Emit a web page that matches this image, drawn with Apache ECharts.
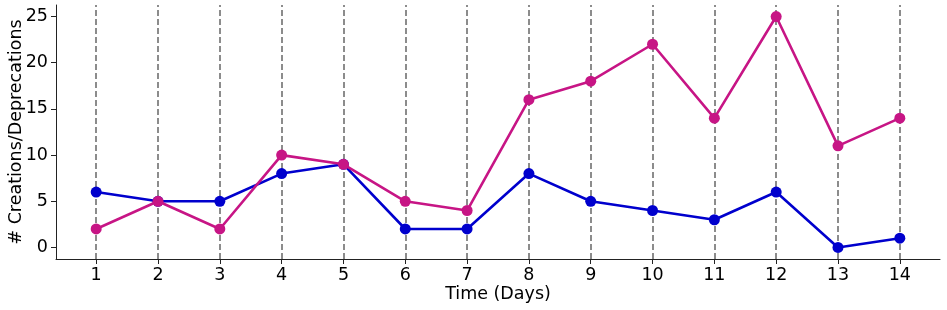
<!DOCTYPE html>
<html><head><meta charset="utf-8">
<script src="https://cdn.jsdelivr.net/npm/echarts@6/dist/echarts.min.js"></script>
<style>html,body{margin:0;padding:0;background:#fff}#c{width:947px;height:310px}</style>
</head><body><div id="c"></div>
<script>
const days = [1,2,3,4,5,6,7,8,9,10,11,12,13,14];
const blueValues = [6,5,5,8,9,2,2,8,5,4,3,6,0,1];
const magentaValues = [2,5,2,10,9,5,4,16,18,22,14,25,11,14];
const yTicks = [0,5,10,15,20,25];
const xLabel = 'Time (Days)';
const yLabel = '# Creations/Deprecations';

const font = 'DejaVu Sans';
const chart = echarts.init(document.getElementById('c'), null, {renderer:'canvas'});
const line = {show:true, onZero:false, lineStyle:{color:'#222', width:1}};
const BLUE = '#0000CD', MAG = '#C71585';
function lineSeries(vals, color, z){
  return {type:'line', data:days.map((d,i)=>[d, vals[i]]), z:z, silent:true,
    showSymbol:false, lineStyle:{color:color, width:2.6}, itemStyle:{color:color}};
}
function dotSeries(vals, color, z){
  return {type:'scatter', data:days.map((d,i)=>[d, vals[i]]), z:z, silent:true,
    symbol:'circle', symbolSize:11, itemStyle:{color:color, opacity:1, borderWidth:0}};
}
chart.setOption({
  animation:false,
  grid:{left:56, right:7, top:5, bottom:51, containLabel:false, outerBoundsMode:'none'},
  xAxis:{
    type:'value', min:0.35, max:14.65,
    name:xLabel, nameGap:26, nameLocation:'middle', nameMoveOverlap:false,
    nameTextStyle:{fontFamily:font, fontSize:17.5, color:'#000'},
    axisLine:line, splitLine:{show:false},
    axisTick:{show:true, length:5, lineStyle:{color:'#222'}, customValues:days},
    axisLabel:{customValues:days, fontFamily:font, fontSize:17.5, color:'#000', margin:7}
  },
  yAxis:{
    type:'value', min:-1.25, max:26.25,
    name:yLabel, nameGap:31, nameLocation:'middle', nameMoveOverlap:false,
    nameTextStyle:{fontFamily:font, fontSize:17.5, color:'#000'},
    axisLine:line, splitLine:{show:false},
    axisTick:{show:true, length:5, lineStyle:{color:'#222'}, customValues:yTicks},
    axisLabel:{customValues:yTicks, fontFamily:font, fontSize:17.5, color:'#000', margin:8}
  },
  series:[
    {type:'line', data:[], silent:true, z:1,
     markLine:{silent:true, z:1, symbol:['none','none'], label:{show:false},
       lineStyle:{color:'#808080', type:[6,3], width:1.8},
       data: days.map(d=>({xAxis:d}))}},
    lineSeries(blueValues, BLUE, 3),
    dotSeries(blueValues, BLUE, 4),
    lineSeries(magentaValues, MAG, 5),
    dotSeries(magentaValues, MAG, 6)
  ]
});
</script></body></html>
